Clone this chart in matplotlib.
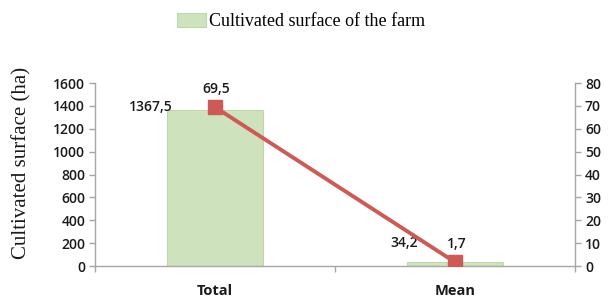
import matplotlib.pyplot as plt
import numpy as np

categories = ["Total", "Mean"]
surface_ha = [1367.5, 34.2]
line_values = [69.5, 1.7]

bar_color = "#cde2bd"
bar_edge = "#b5d3a0"
line_color = "#cd5a55"
axis_gray = "#a6a6a6"
sans = ["Open Sans", "DejaVu Sans"]

# where Excel put the bar value labels (offset from bar top-left, in points)
bar_label_offsets = [(4, 2), (8, 14)]


def fmt(v):
    return f"{v:.1f}".replace(".", ",")


fig = plt.figure(figsize=(6.08, 3.01), dpi=100)
ax = fig.add_axes([0.156, 0.116, 0.79, 0.608])
ax2 = ax.twinx()

x = np.arange(len(categories))
bars = ax.bar(x, surface_ha, width=0.4, color=bar_color, edgecolor=bar_edge,
              linewidth=0.6, label="Cultivated surface of the farm", zorder=2)
ax2.plot(x, line_values, color=line_color, linewidth=2.8, marker="s",
         markersize=9.5, markerfacecolor=line_color, markeredgecolor=line_color,
         zorder=3)

ax.set_xlim(-0.5, 1.5)
ax.set_ylim(0, 1600)
ax.set_yticks(np.arange(0, 1601, 200))
ax2.set_ylim(0, 80)
ax2.set_yticks(np.arange(0, 81, 10))

for a in (ax, ax2):
    a.spines["top"].set_visible(False)
    for side in ("left", "right", "bottom"):
        a.spines[side].set_color(axis_gray)
        a.spines[side].set_linewidth(1.0)
    a.tick_params(axis="y", colors=axis_gray, length=4, width=1.0,
                  labelcolor="#1a1a1a", labelsize=10, pad=3)
    for lbl in a.get_yticklabels():
        lbl.set_family(sans)
        lbl.set_fontweight("semibold")
ax2.spines["left"].set_visible(False)
ax.spines["right"].set_visible(False)
ax2.spines["bottom"].set_visible(False)

ax.set_xticks(x)
ax.set_xticklabels(categories, family=sans, fontweight="bold", fontsize=10.5,
                   color="#1a1a1a")
ax.set_xticks([-0.5, 0.5, 1.5], minor=True)
ax.tick_params(axis="x", which="major", length=0, pad=13)
ax.tick_params(axis="x", which="minor", length=4, width=1.0, color=axis_gray)

ax.set_ylabel("Cultivated surface (ha)", family="Liberation Serif",
              fontsize=15, color="#1a1a1a", va="center")
ax.yaxis.set_label_coords(-0.152, 0.563)

# data labels
for xi, v, off in zip(x, surface_ha, bar_label_offsets):
    ax.annotate(fmt(v), (xi - 0.2, v), xytext=off, textcoords="offset points",
                ha="right", va="center", family=sans, fontweight="semibold",
                fontsize=10, color="#1a1a1a")
for xi, v in zip(x, line_values):
    ax2.annotate(fmt(v), (xi, v), xytext=(1, 8), textcoords="offset points",
                 ha="center", va="bottom", family=sans, fontweight="semibold",
                 fontsize=10, color="#1a1a1a")

fig.legend(handles=[bars], loc="upper center", bbox_to_anchor=(0.495, 1.01),
           frameon=False, prop={"family": "Liberation Serif", "size": 13},
           handlelength=1.6, handleheight=0.8, handletextpad=0.2)

fig.savefig("out.png", dpi=100)
